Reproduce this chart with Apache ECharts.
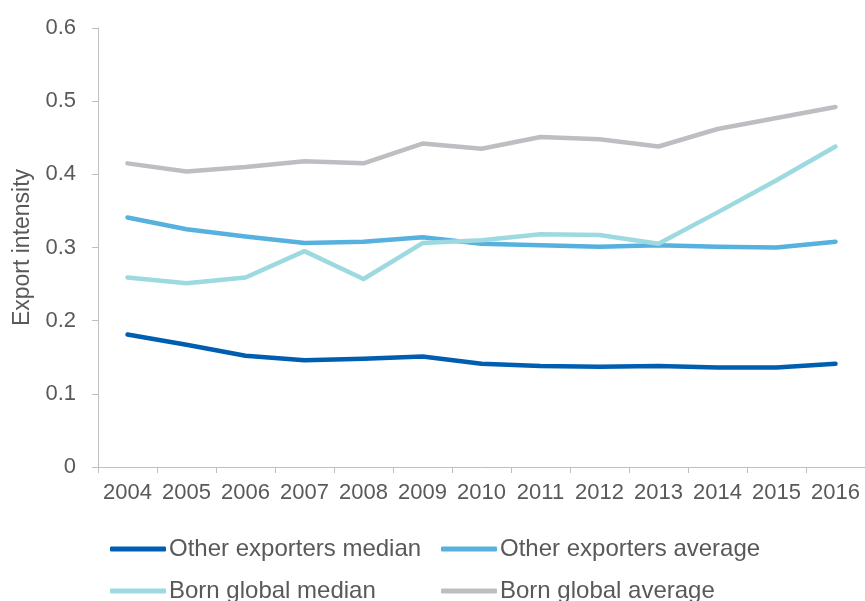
<!DOCTYPE html>
<html>
<head>
<meta charset="utf-8">
<title>Export intensity</title>
<script src="https://cdn.jsdelivr.net/npm/echarts@6/dist/echarts.min.js"></script>
<style>
  html, body { margin: 0; padding: 0; background: #ffffff; }
  #chart { width: 865px; height: 601px; }
</style>
</head>
<body>
<div id="chart"></div>
<script>
// Years on the horizontal axis
const years = ['2004', '2005', '2006', '2007', '2008', '2009', '2010', '2011', '2012', '2013', '2014', '2015', '2016'];

// Export intensity by group
const otherExportersMedian = [0.181, 0.167, 0.152, 0.146, 0.148, 0.151, 0.141, 0.138, 0.137, 0.138, 0.136, 0.136, 0.141];
const otherExportersAverage = [0.341, 0.325, 0.315, 0.306, 0.308, 0.314, 0.305, 0.303, 0.301, 0.303, 0.301, 0.300, 0.308];
const bornGlobalMedian = [0.259, 0.251, 0.259, 0.295, 0.257, 0.306, 0.310, 0.318, 0.317, 0.305, 0.348, 0.392, 0.438];
const bornGlobalAverage = [0.415, 0.404, 0.410, 0.418, 0.415, 0.442, 0.435, 0.451, 0.448, 0.438, 0.462, 0.477, 0.492];

const textColor = '#595959';
const axisColor = '#BFBFBF';
const fontFamily = 'Liberation Sans, Arial, sans-serif';

function lineSeries(name, data, color) {
  return {
    name: name,
    type: 'line',
    data: data,
    symbol: 'none',
    smooth: false,
    color: color,
    lineStyle: { width: 4.5, color: color, cap: 'round', join: 'round' },
    emphasis: { disabled: true }
  };
}

// Two legend columns, each stacking two entries
const legendCommon = {
  orient: 'vertical',
  top: 537,
  height: 90,
  icon: 'roundRect',
  itemWidth: 56,
  itemHeight: 5,
  itemGap: 18,
  padding: 0,
  selectedMode: false,
  textStyle: { color: textColor, fontSize: 24, fontFamily: fontFamily, padding: [0, 0, 0, -2], lineHeight: 24 }
};

const chart = echarts.init(document.getElementById('chart'), null, { renderer: 'canvas' });

chart.setOption({
  animation: false,
  backgroundColor: '#ffffff',
  textStyle: { fontFamily: fontFamily },
  grid: { left: 98, right: 0, top: 28, bottom: 134, containLabel: false },
  legend: [
    Object.assign({}, legendCommon, { left: 110, data: ['Other exporters median', 'Born global median'] }),
    Object.assign({}, legendCommon, { left: 441, data: ['Other exporters average', 'Born global average'] })
  ],
  xAxis: {
    type: 'category',
    data: years,
    boundaryGap: true,
    axisLine: { lineStyle: { color: axisColor, width: 1 } },
    axisTick: { show: true, length: 6, interval: 0, lineStyle: { color: axisColor } },
    axisLabel: { color: textColor, fontSize: 22, margin: 15, interval: 0, hideOverlap: false, fontFamily: fontFamily }
  },
  yAxis: {
    type: 'value',
    min: 0,
    max: 0.6,
    interval: 0.1,
    name: 'Export intensity',
    nameLocation: 'middle',
    nameGap: 62,
    nameTextStyle: { color: textColor, fontSize: 23, fontFamily: fontFamily },
    axisLine: { show: true, lineStyle: { color: axisColor, width: 1 } },
    axisTick: { show: true, length: 6, lineStyle: { color: axisColor } },
    splitLine: { show: false },
    axisLabel: {
      color: textColor,
      fontSize: 22,
      margin: 22,
      fontFamily: fontFamily,
      formatter: function (v) { return v === 0 ? '0' : v.toFixed(1); }
    }
  },
  series: [
    lineSeries('Other exporters median', otherExportersMedian, '#005EB0'),
    lineSeries('Other exporters average', otherExportersAverage, '#56B1DF'),
    lineSeries('Born global median', bornGlobalMedian, '#9DD9E0'),
    lineSeries('Born global average', bornGlobalAverage, '#BCBEC1')
  ]
});
</script>
</body>
</html>
